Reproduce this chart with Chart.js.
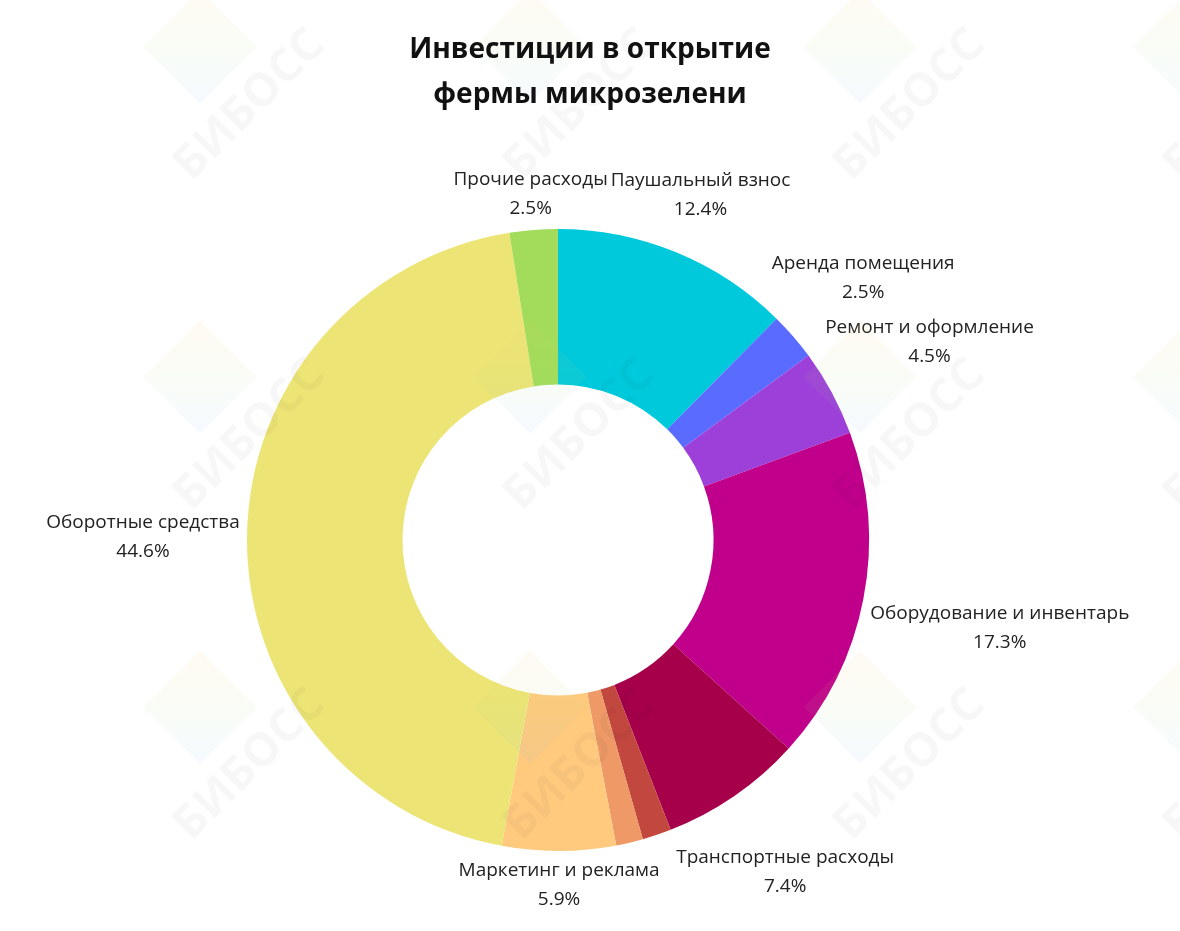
<!DOCTYPE html>
<html>
<head>
<meta charset="utf-8">
<script src="https://cdn.jsdelivr.net/npm/chart.js@4"></script>
<style>
  html, body { margin: 0; padding: 0; background: #fff; }
  #wrap { position: relative; width: 1180px; height: 931px; }
  #title {
    position: absolute; left: 0; top: 25px; width: 1180px;
    text-align: center; font-family: "Open Sans", sans-serif; font-weight: 700;
    font-size: 28px; line-height: 45px; color: #111;
  }
  canvas { position: absolute; left: 0; top: 0; }
</style>
</head>
<body>
<div id="wrap">
  <canvas id="pie" width="1180" height="931"></canvas>
  <div id="title">Инвестиции в открытие<br>фермы микрозелени</div>
</div>
<script>
const categories = [
  'Паушальный взнос', 'Аренда помещения', 'Ремонт и оформление',
  'Оборудование и инвентарь', 'Транспортные расходы', 'Прочие 1', 'Прочие 2',
  'Маркетинг и реклама', 'Оборотные средства', 'Прочие расходы'
];
const shares = [12.4, 2.5, 4.5, 17.3, 7.4, 1.5, 1.4, 5.9, 44.6, 2.5];
const showLabel = [true, true, true, true, true, false, false, true, true, true];
const colors = [
  '#00c9dc', '#5a6cff', '#9d3fd9', '#c0008b', '#a6004a',
  '#c2473f', '#ee9966', '#ffc97e', '#ede476', '#a2dc5a'
];

// faint watermark grid (logo + text)
const watermark = {
  id: 'watermark',
  afterDraw(chart) {
    const c = chart.ctx;
    c.save();
    for (let x = 250; x < 1300; x += 330) {
      for (let y = 105; y < 1000; y += 330) {
        // logo diamond
        c.save();
        c.translate(x - 50, y - 58);
        c.rotate(Math.PI / 4);
        const g = c.createLinearGradient(-40, -40, 40, 40);
        g.addColorStop(0, 'rgba(255,190,90,0.07)');
        g.addColorStop(0.5, 'rgba(170,220,120,0.07)');
        g.addColorStop(1, 'rgba(120,180,255,0.07)');
        c.fillStyle = g;
        c.fillRect(-40, -40, 80, 80);
        c.restore();
        // text
        c.save();
        c.translate(x, y);
        c.rotate(-Math.PI / 4);
        c.font = 'bold 46px "Open Sans", sans-serif';
        c.fillStyle = 'rgba(0,0,0,0.03)';
        c.textAlign = 'center';
        c.textBaseline = 'middle';
        c.fillText('БИБОСС', 0, 0);
        c.restore();
      }
    }
    c.restore();
  }
};

// labels outside the ring, name + percent, block centred on the slice's radial line
const outLabels = {
  id: 'outLabels',
  afterDatasetsDraw(chart) {
    const c = chart.ctx;
    const meta = chart.getDatasetMeta(0);
    c.save();
    c.font = '19px "Open Sans", sans-serif';
    c.fillStyle = '#222';
    c.textAlign = 'center';
    c.textBaseline = 'middle';
    const lh = 29, halfH = 25, gap = 7;
    meta.data.forEach((arc, i) => {
      if (!showLabel[i]) return;
      const a = (arc.startAngle + arc.endAngle) / 2;
      const pct = shares[i].toFixed(1) + '%';
      const w = Math.max(c.measureText(categories[i]).width, c.measureText(pct).width);
      const r = arc.outerRadius + gap + Math.abs(Math.cos(a)) * w / 2 + Math.abs(Math.sin(a)) * halfH;
      const cx = arc.x + Math.cos(a) * r;
      const cy = arc.y + Math.sin(a) * r + 2;
      c.fillText(categories[i], cx, cy - lh / 2);
      c.fillText(pct, cx, cy + lh / 2);
    });
    c.restore();
  }
};

new Chart(document.getElementById('pie').getContext('2d'), {
  type: 'doughnut',
  data: {
    labels: categories,
    datasets: [{
      data: shares,
      backgroundColor: colors,
      borderWidth: 0
    }]
  },
  options: {
    responsive: false,
    animation: false,
    cutout: '50%',
    layout: { padding: { left: 247, right: 311, top: 229, bottom: 80 } },
    plugins: {
      legend: { display: false },
      tooltip: { enabled: false }
    }
  },
  plugins: [outLabels, watermark]
});
</script>
</body>
</html>
